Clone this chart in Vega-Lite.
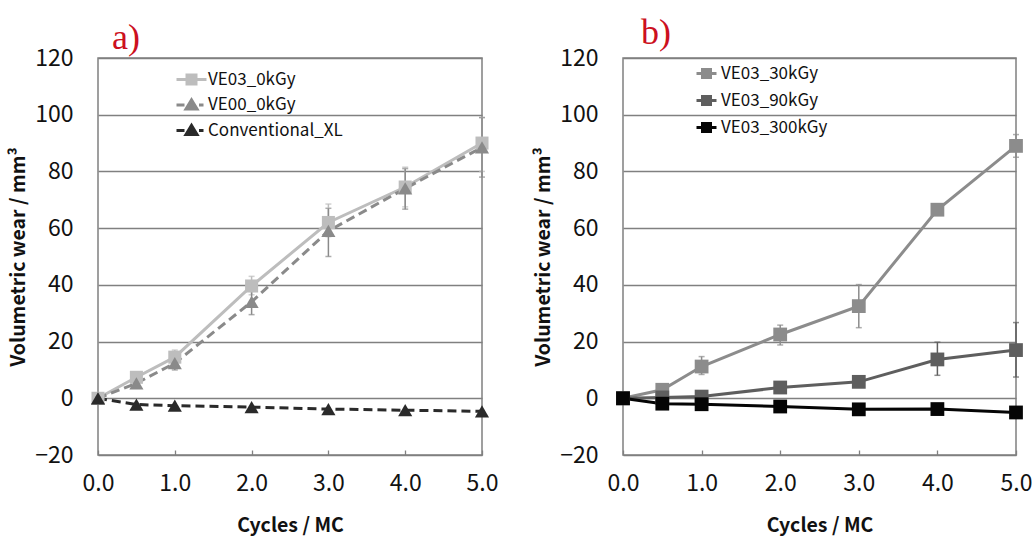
{
  "$schema": "https://vega.github.io/schema/vega-lite/v6.json",
  "background": "white",
  "padding": {"left": 7, "top": 14, "right": 2, "bottom": 5},
  "spacing": 33,
  "resolve": {"scale": {"color": "independent", "shape": "independent"}, "legend": {"color": "independent", "shape": "independent"}},
  "config": {
    "font": "Noto Sans CJK JP, sans-serif",
    "view": {"stroke": "#808080", "strokeWidth": 1.5},
    "axis": {
      "labelFont": "Noto Sans CJK JP, sans-serif",
      "titleFont": "Noto Sans CJK JP, sans-serif",
      "labelFontSize": 23, "labelColor": "#111", "titleFontSize": 19.5, "titleFontWeight": "bold", "titleColor": "#111"
    },
    "axisX": {"grid": false, "domain": false, "tickSize": -5, "tickColor": "#808080", "tickWidth": 1.3, "labelPadding": 22, "titlePadding": 21, "labelFlush": false},
    "axisY": {"grid": true, "gridColor": "#808080", "gridWidth": 1.3, "domain": false, "ticks": false, "labelPadding": 25, "titlePadding": 6},
    "legend": {"labelFont": "Noto Sans CJK JP, sans-serif", "labelFontSize": 17, "labelColor": "#111", "symbolStrokeWidth": 3, "symbolOpacity": 1}
  },
  "hconcat": [
    {
      "width": 384, "height": 397,
      "title": {"text": "a)", "anchor": "start", "dx": 14, "font": "Liberation Serif", "fontSize": 36, "fontWeight": "normal", "color": "#cc1020", "offset": -10, "frame": "group"},
      "data": {"values": [
        {"series": "VE03_0kGy", "x": 0, "y": 0, "lo": null, "hi": null},
        {"series": "VE03_0kGy", "x": 0.5, "y": 7.4, "lo": 5.5, "hi": 9},
        {"series": "VE03_0kGy", "x": 1, "y": 14.5, "lo": 11.5, "hi": 17},
        {"series": "VE03_0kGy", "x": 2, "y": 39.6, "lo": 36.5, "hi": 43},
        {"series": "VE03_0kGy", "x": 3, "y": 62, "lo": 57, "hi": 68.5},
        {"series": "VE03_0kGy", "x": 4, "y": 74.5, "lo": 67.5, "hi": 81.5},
        {"series": "VE03_0kGy", "x": 5, "y": 90, "lo": 80, "hi": 99},
        {"series": "VE00_0kGy", "x": 0, "y": 0, "lo": null, "hi": null},
        {"series": "VE00_0kGy", "x": 0.5, "y": 5.3, "lo": 4, "hi": 7},
        {"series": "VE00_0kGy", "x": 1, "y": 12.4, "lo": 10, "hi": 15},
        {"series": "VE00_0kGy", "x": 2, "y": 34, "lo": 29.5, "hi": 40},
        {"series": "VE00_0kGy", "x": 3, "y": 59, "lo": 50, "hi": 67},
        {"series": "VE00_0kGy", "x": 4, "y": 74, "lo": 66.7, "hi": 81},
        {"series": "VE00_0kGy", "x": 5, "y": 88.5, "lo": 78, "hi": 99},
        {"series": "Conventional_XL", "x": 0, "y": 0, "lo": null, "hi": null},
        {"series": "Conventional_XL", "x": 0.5, "y": -2.2, "lo": null, "hi": null},
        {"series": "Conventional_XL", "x": 1, "y": -2.6, "lo": null, "hi": null},
        {"series": "Conventional_XL", "x": 2, "y": -3.1, "lo": null, "hi": null},
        {"series": "Conventional_XL", "x": 3, "y": -3.8, "lo": null, "hi": null},
        {"series": "Conventional_XL", "x": 4, "y": -4.2, "lo": null, "hi": null},
        {"series": "Conventional_XL", "x": 5, "y": -4.6, "lo": null, "hi": null}
      ]},
      "layer": [
        {
          "transform": [{"filter": "isValid(datum.lo)"}],
          "mark": {"type": "errorbar", "ticks": {"size": 6}, "thickness": 1.5},
          "encoding": {
            "x": {"field": "x", "type": "quantitative", "scale": {"domain": [0, 5], "nice": false}, "axis": {"values": [0, 1, 2, 3, 4, 5], "format": ".1f"}, "title": "Cycles / MC"},
            "y": {"field": "lo", "type": "quantitative", "scale": {"domain": [-20, 120], "nice": false}, "axis": {"values": [-20, 0, 20, 40, 60, 80, 100, 120]}, "title": "Volumetric wear / mm³"},
            "y2": {"field": "hi"},
            "color": {"field": "series", "type": "nominal", "scale": {"domain": ["VE03_0kGy", "VE00_0kGy", "Conventional_XL"], "range": ["#bdbdbd", "#8a8a8a", "#2a2a2a"]}}
          }
        },
        {
          "transform": [{"filter": "datum.series == 'VE03_0kGy'"}],
          "mark": {"type": "line", "strokeWidth": 3},
          "encoding": {
            "x": {"field": "x", "type": "quantitative", "title": "Cycles / MC"},
            "y": {"field": "y", "type": "quantitative", "title": "Volumetric wear / mm³"},
            "color": {"field": "series", "type": "nominal"}
          }
        },
        {
          "transform": [{"filter": "datum.series != 'VE03_0kGy'"}],
          "mark": {"type": "line", "strokeWidth": 3, "strokeDash": [9, 5]},
          "encoding": {
            "x": {"field": "x", "type": "quantitative", "title": "Cycles / MC"},
            "y": {"field": "y", "type": "quantitative", "title": "Volumetric wear / mm³"},
            "color": {"field": "series", "type": "nominal"}
          }
        },
        {
          "transform": [{"filter": "datum.series == 'VE03_0kGy'"}],
          "mark": {"type": "point", "filled": true, "opacity": 1, "size": 170, "shape": "square"},
          "encoding": {
            "x": {"field": "x", "type": "quantitative", "title": "Cycles / MC"},
            "y": {"field": "y", "type": "quantitative", "title": "Volumetric wear / mm³"},
            "color": {"field": "series", "type": "nominal"}
          }
        },
        {
          "transform": [{"filter": "datum.series != 'VE03_0kGy'"}],
          "mark": {"type": "point", "filled": true, "opacity": 1, "size": 200, "shape": "triangle-up"},
          "encoding": {
            "x": {"field": "x", "type": "quantitative", "title": "Cycles / MC"},
            "y": {"field": "y", "type": "quantitative", "title": "Volumetric wear / mm³"},
            "color": {"field": "series", "type": "nominal"}
          }
        },
        {
          "mark": {"type": "point", "filled": true, "opacity": 0, "size": 10},
          "encoding": {
            "x": {"field": "x", "type": "quantitative", "title": "Cycles / MC"},
            "y": {"field": "y", "type": "quantitative", "title": "Volumetric wear / mm³"},
            "shape": {"field": "series", "type": "nominal", "scale": {"domain": ["VE03_0kGy", "VE00_0kGy", "Conventional_XL"], "range": ["M-1.5,0H1.5M-0.45,-0.45H0.45V0.45H-0.45Z", "M-1.5,0H-0.7M-0.55,0.4L0,-0.5L0.55,0.4ZM0.75,0H1.2", "M-1.5,0H-0.7M-0.55,0.4L0,-0.5L0.55,0.4ZM0.75,0H1.2"]}, "legend": {
              "orient": "none", "legendX": 82, "legendY": 10, "title": null, "symbolSize": 400, "labelOffset": 5, "rowPadding": 3.5, "symbolOpacity": 1
            }},
            "color": {"field": "series", "type": "nominal", "legend": {
              "orient": "none", "legendX": 82, "legendY": 10, "title": null, "symbolSize": 400, "labelOffset": 5, "rowPadding": 3.5, "symbolOpacity": 1
            }}
          }
        }
      ]
    },
    {
      "width": 393, "height": 397,
      "title": {"text": "b)", "anchor": "start", "dx": 18, "font": "Liberation Serif", "fontSize": 36, "fontWeight": "normal", "color": "#cc1020", "offset": -5, "frame": "group"},
      "data": {"values": [
        {"series": "VE03_30kGy", "x": 0, "y": 0, "lo": null, "hi": null},
        {"series": "VE03_30kGy", "x": 0.5, "y": 3, "lo": null, "hi": null},
        {"series": "VE03_30kGy", "x": 1, "y": 11.2, "lo": 8.4, "hi": 14.7},
        {"series": "VE03_30kGy", "x": 2, "y": 22.5, "lo": 18.8, "hi": 25.8},
        {"series": "VE03_30kGy", "x": 3, "y": 32.5, "lo": 24.9, "hi": 40.1},
        {"series": "VE03_30kGy", "x": 4, "y": 66.5, "lo": null, "hi": null},
        {"series": "VE03_30kGy", "x": 5, "y": 89, "lo": 85, "hi": 93},
        {"series": "VE03_90kGy", "x": 0, "y": 0, "lo": null, "hi": null},
        {"series": "VE03_90kGy", "x": 0.5, "y": 0.3, "lo": null, "hi": null},
        {"series": "VE03_90kGy", "x": 1, "y": 0.6, "lo": null, "hi": null},
        {"series": "VE03_90kGy", "x": 2, "y": 3.8, "lo": null, "hi": null},
        {"series": "VE03_90kGy", "x": 3, "y": 5.8, "lo": null, "hi": null},
        {"series": "VE03_90kGy", "x": 4, "y": 13.7, "lo": 8.1, "hi": 19.8},
        {"series": "VE03_90kGy", "x": 5, "y": 17, "lo": 7.5, "hi": 26.7},
        {"series": "VE03_300kGy", "x": 0, "y": 0, "lo": null, "hi": null},
        {"series": "VE03_300kGy", "x": 0.5, "y": -1.9, "lo": null, "hi": null},
        {"series": "VE03_300kGy", "x": 1, "y": -2.1, "lo": null, "hi": null},
        {"series": "VE03_300kGy", "x": 2, "y": -2.9, "lo": null, "hi": null},
        {"series": "VE03_300kGy", "x": 3, "y": -3.9, "lo": null, "hi": null},
        {"series": "VE03_300kGy", "x": 4, "y": -3.8, "lo": null, "hi": null},
        {"series": "VE03_300kGy", "x": 5, "y": -5, "lo": null, "hi": null}
      ]},
      "layer": [
        {
          "transform": [{"filter": "isValid(datum.lo)"}],
          "mark": {"type": "errorbar", "ticks": {"size": 6}, "thickness": 1.5},
          "encoding": {
            "x": {"field": "x", "type": "quantitative", "scale": {"domain": [0, 5], "nice": false}, "axis": {"values": [0, 1, 2, 3, 4, 5], "format": ".1f"}, "title": "Cycles / MC"},
            "y": {"field": "lo", "type": "quantitative", "scale": {"domain": [-20, 120], "nice": false}, "axis": {"values": [-20, 0, 20, 40, 60, 80, 100, 120]}, "title": "Volumetric wear / mm³"},
            "y2": {"field": "hi"},
            "color": {"field": "series", "type": "nominal", "scale": {"domain": ["VE03_30kGy", "VE03_90kGy", "VE03_300kGy"], "range": ["#8c8c8c", "#5e5e5e", "#050505"]}}
          }
        },
        {
          "mark": {"type": "line", "strokeWidth": 3},
          "encoding": {
            "x": {"field": "x", "type": "quantitative", "title": "Cycles / MC"},
            "y": {"field": "y", "type": "quantitative", "title": "Volumetric wear / mm³"},
            "color": {"field": "series", "type": "nominal"}
          }
        },
        {
          "mark": {"type": "point", "filled": true, "opacity": 1, "size": 190, "shape": "square"},
          "encoding": {
            "x": {"field": "x", "type": "quantitative", "title": "Cycles / MC"},
            "y": {"field": "y", "type": "quantitative", "title": "Volumetric wear / mm³"},
            "color": {"field": "series", "type": "nominal", "legend": {
              "orient": "none", "legendX": 72, "legendY": 4, "title": null, "symbolSize": 400, "labelOffset": 3, "rowPadding": 5, "symbolOpacity": 1,
              "symbolType": "M-1,0H1M-0.4,-0.4H0.4V0.4H-0.4Z"
            }}
          }
        }
      ]
    }
  ]
}
